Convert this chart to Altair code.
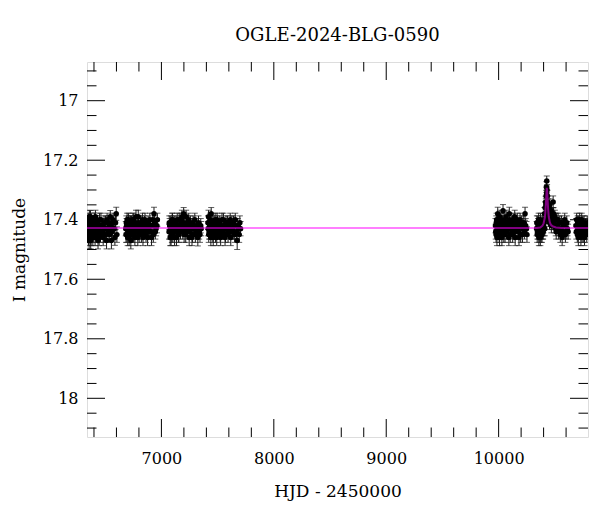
import altair as alt
import pandas as pd

# ---- photometry: (HJD-2450000, I mag, error), two interleaved lists per observing season ----
season1 = [(6340,17.42,0.024),(6345,17.45,0.026),(6349,17.40,0.022),(6353,17.44,0.025),(6357,17.47,0.028),
           (6361,17.41,0.023),(6365,17.43,0.024),(6369,17.39,0.021),(6374,17.46,0.027),(6378,17.42,0.024),
           (6383,17.44,0.025),(6388,17.41,0.022),(6393,17.45,0.026),(6398,17.43,0.024),(6404,17.40,0.023),
           (6410,17.46,0.027),(6416,17.42,0.022),(6422,17.44,0.025),(6429,17.41,0.024),(6436,17.47,0.028),
           (6443,17.43,0.023),(6450,17.40,0.022),(6458,17.45,0.026),(6466,17.42,0.024),(6474,17.44,0.025),
           (6482,17.46,0.027),(6490,17.41,0.023),(6499,17.43,0.024),(6508,17.45,0.026),(6517,17.40,0.022),
           (6526,17.44,0.025),(6535,17.42,0.024),(6545,17.39,0.021),(6555,17.47,0.028),(6565,17.43,0.024),
           (6575,17.41,0.023),(6586,17.46,0.026),(6598,17.38,0.022)]
season1b = [(6343,17.44,0.025),(6347,17.41,0.023),(6351,17.46,0.027),(6355,17.42,0.024),(6359,17.39,0.022),
            (6363,17.45,0.026),(6367,17.43,0.024),(6371,17.47,0.028),(6376,17.40,0.022),(6380,17.44,0.025),
            (6385,17.42,0.024),(6390,17.46,0.027),(6395,17.41,0.023),(6401,17.44,0.025),(6407,17.42,0.024),
            (6413,17.39,0.022),(6419,17.45,0.026),(6425,17.43,0.024),(6432,17.41,0.023),(6439,17.44,0.025),
            (6446,17.46,0.027),(6454,17.42,0.024),(6462,17.40,0.022),(6470,17.44,0.025),(6478,17.42,0.024),
            (6486,17.45,0.026),(6494,17.43,0.024),(6503,17.41,0.023),(6512,17.47,0.028),(6521,17.43,0.024),
            (6530,17.41,0.023),(6540,17.45,0.026),(6550,17.42,0.024),(6560,17.44,0.025),(6570,17.40,0.022),
            (6580,17.43,0.024),(6592,17.41,0.023),(6604,17.45,0.026)]
season2 = [(6683,17.43,0.024),(6688,17.41,0.023),(6693,17.45,0.026),(6698,17.42,0.024),(6703,17.44,0.025),
           (6708,17.40,0.022),(6713,17.46,0.027),(6719,17.43,0.024),(6725,17.41,0.023),(6731,17.44,0.025),
           (6737,17.42,0.024),(6743,17.45,0.026),(6750,17.40,0.022),(6757,17.43,0.024),(6764,17.46,0.027),
           (6771,17.41,0.023),(6778,17.44,0.025),(6786,17.42,0.024),(6794,17.39,0.022),(6802,17.45,0.026),
           (6810,17.43,0.024),(6818,17.41,0.023),(6827,17.44,0.025),(6836,17.46,0.027),(6845,17.42,0.024),
           (6854,17.40,0.022),(6863,17.45,0.026),(6872,17.43,0.024),(6882,17.41,0.023),(6892,17.44,0.025),
           (6902,17.42,0.024),(6912,17.46,0.027),(6923,17.40,0.022),(6934,17.38,0.022),(6946,17.44,0.025),
           (6960,17.42,0.024)]
season2b = [(6685,17.45,0.026),(6690,17.42,0.024),(6695,17.40,0.022),(6700,17.46,0.027),(6705,17.43,0.024),
            (6711,17.41,0.023),(6716,17.44,0.025),(6722,17.42,0.024),(6728,17.47,0.028),(6734,17.41,0.023),
            (6740,17.43,0.024),(6747,17.40,0.022),(6753,17.45,0.026),(6760,17.42,0.024),(6767,17.44,0.025),
            (6774,17.39,0.022),(6782,17.43,0.024),(6790,17.46,0.027),(6798,17.41,0.023),(6806,17.44,0.025),
            (6814,17.42,0.024),(6822,17.45,0.026),(6831,17.40,0.022),(6840,17.43,0.024),(6849,17.41,0.023),
            (6858,17.44,0.025),(6867,17.42,0.024),(6877,17.46,0.027),(6887,17.43,0.024),(6897,17.40,0.022),
            (6907,17.44,0.025),(6917,17.42,0.024),(6928,17.45,0.026),(6940,17.41,0.023),(6953,17.43,0.024),
            (6964,17.40,0.022)]
season3 = [(7068,17.44,0.025),(7073,17.42,0.024),(7078,17.46,0.027),(7083,17.41,0.023),(7088,17.43,0.024),
           (7093,17.45,0.026),(7099,17.40,0.022),(7105,17.44,0.025),(7111,17.42,0.024),(7117,17.46,0.027),
           (7123,17.43,0.024),(7130,17.41,0.023),(7137,17.44,0.025),(7144,17.42,0.024),(7151,17.45,0.026),
           (7158,17.40,0.022),(7166,17.43,0.024),(7174,17.41,0.023),(7182,17.39,0.022),(7190,17.44,0.025),
           (7198,17.38,0.021),(7207,17.42,0.024),(7216,17.45,0.026),(7225,17.41,0.023),(7234,17.43,0.024),
           (7243,17.40,0.022),(7252,17.44,0.025),(7262,17.42,0.024),(7272,17.46,0.027),(7282,17.41,0.023),
           (7292,17.43,0.024),(7302,17.45,0.026),(7313,17.42,0.024),(7324,17.46,0.028),(7336,17.44,0.025),
           (7350,17.42,0.024)]
season3b = [(7070,17.41,0.023),(7075,17.44,0.025),(7080,17.43,0.024),(7086,17.46,0.027),(7091,17.42,0.024),
            (7096,17.40,0.022),(7102,17.45,0.026),(7108,17.43,0.024),(7114,17.41,0.023),(7120,17.44,0.025),
            (7127,17.42,0.024),(7134,17.46,0.027),(7141,17.40,0.022),(7148,17.43,0.024),(7155,17.45,0.026),
            (7162,17.42,0.024),(7170,17.44,0.025),(7178,17.40,0.022),(7186,17.43,0.024),(7194,17.41,0.023),
            (7202,17.45,0.026),(7211,17.43,0.024),(7220,17.39,0.022),(7229,17.44,0.025),(7238,17.42,0.024),
            (7247,17.46,0.027),(7257,17.41,0.023),(7267,17.43,0.024),(7277,17.45,0.026),(7287,17.42,0.024),
            (7297,17.40,0.022),(7307,17.44,0.025),(7318,17.43,0.024),(7330,17.41,0.023),(7343,17.45,0.026),
            (7354,17.43,0.024)]
season4 = [(7414,17.41,0.023),(7419,17.39,0.022),(7424,17.44,0.025),(7429,17.42,0.024),(7434,17.40,0.022),
           (7440,17.46,0.027),(7446,17.43,0.024),(7452,17.41,0.023),(7458,17.45,0.026),(7464,17.42,0.024),
           (7471,17.44,0.025),(7478,17.40,0.022),(7485,17.43,0.024),(7492,17.46,0.027),(7499,17.41,0.023),
           (7507,17.44,0.025),(7515,17.42,0.024),(7523,17.45,0.026),(7531,17.43,0.024),(7539,17.40,0.022),
           (7548,17.44,0.025),(7557,17.42,0.024),(7566,17.46,0.027),(7575,17.41,0.023),(7584,17.43,0.024),
           (7593,17.45,0.026),(7602,17.42,0.024),(7612,17.40,0.022),(7622,17.44,0.025),(7632,17.43,0.024),
           (7642,17.41,0.023),(7652,17.45,0.026),(7663,17.42,0.024),(7674,17.47,0.030),(7686,17.43,0.024),
           (7698,17.41,0.023)]
season4b = [(7416,17.43,0.024),(7421,17.45,0.026),(7426,17.41,0.023),(7431,17.44,0.025),(7437,17.42,0.024),
            (7443,17.38,0.021),(7449,17.44,0.025),(7455,17.42,0.024),(7461,17.46,0.027),(7467,17.41,0.023),
            (7474,17.43,0.024),(7481,17.45,0.026),(7488,17.42,0.024),(7495,17.40,0.022),(7503,17.44,0.025),
            (7511,17.43,0.024),(7519,17.41,0.023),(7527,17.46,0.027),(7535,17.42,0.024),(7543,17.44,0.025),
            (7552,17.40,0.022),(7561,17.43,0.024),(7570,17.45,0.026),(7579,17.42,0.024),(7588,17.41,0.023),
            (7597,17.44,0.025),(7607,17.43,0.024),(7617,17.46,0.027),(7627,17.41,0.023),(7637,17.44,0.025),
            (7647,17.42,0.024),(7657,17.40,0.022),(7668,17.44,0.025),(7680,17.42,0.024),(7692,17.45,0.026),
            (7704,17.43,0.024)]
season5 = [(9972,17.42,0.024),(9977,17.45,0.026),(9982,17.40,0.022),(9987,17.43,0.024),(9992,17.38,0.022),
           (9997,17.44,0.025),(10002,17.41,0.023),(10008,17.46,0.027),(10014,17.42,0.024),(10020,17.40,0.022),
           (10026,17.44,0.025),(10032,17.43,0.024),(10039,17.37,0.021),(10046,17.45,0.026),(10053,17.41,0.023),
           (10060,17.43,0.024),(10067,17.39,0.022),(10075,17.44,0.025),(10083,17.42,0.024),(10091,17.46,0.027),
           (10099,17.40,0.022),(10107,17.43,0.024),(10116,17.41,0.023),(10125,17.45,0.026),(10134,17.42,0.024),
           (10143,17.39,0.022),(10152,17.44,0.025),(10161,17.41,0.023),(10171,17.43,0.024),(10181,17.46,0.027),
           (10191,17.40,0.022),(10201,17.42,0.024),(10212,17.45,0.026),(10223,17.41,0.023),(10235,17.38,0.022),
           (10248,17.43,0.024)]
season5b = [(9974,17.44,0.025),(9979,17.41,0.023),(9985,17.46,0.027),(9990,17.42,0.024),(9995,17.40,0.022),
            (10000,17.43,0.024),(10005,17.45,0.026),(10011,17.39,0.022),(10017,17.44,0.025),(10023,17.42,0.024),
            (10029,17.46,0.027),(10036,17.41,0.023),(10043,17.43,0.024),(10050,17.40,0.022),(10057,17.45,0.026),
            (10064,17.42,0.024),(10071,17.44,0.025),(10079,17.41,0.023),(10087,17.43,0.024),(10095,17.38,0.022),
            (10103,17.45,0.026),(10112,17.42,0.024),(10120,17.44,0.025),(10129,17.40,0.022),(10138,17.43,0.024),
            (10147,17.46,0.027),(10156,17.42,0.024),(10166,17.40,0.022),(10176,17.44,0.025),(10186,17.42,0.024),
            (10196,17.45,0.026),(10206,17.41,0.023),(10217,17.43,0.024),(10229,17.44,0.025),(10241,17.42,0.024),
            (10252,17.45,0.026)]
season6 = [(10338,17.43,0.024),(10343,17.45,0.026),(10348,17.41,0.023),(10353,17.44,0.025),(10358,17.46,0.027),
           (10363,17.42,0.024),(10368,17.44,0.025),(10373,17.40,0.022),(10378,17.45,0.026),(10383,17.43,0.024),
           (10388,17.41,0.023),(10393,17.44,0.025),(10398,17.42,0.024),(10403,17.40,0.022),(10408,17.38,0.021),
           (10413,17.36,0.020),(10418,17.34,0.019),(10422,17.32,0.019),(10425,17.29,0.018),(10428,17.27,0.017),
           (10431,17.30,0.018),(10434,17.32,0.019),(10438,17.35,0.020),(10442,17.37,0.021),(10446,17.36,0.020),
           (10450,17.38,0.021),(10455,17.35,0.020),(10460,17.39,0.022),(10466,17.37,0.021),(10472,17.40,0.022),
           (10478,17.38,0.021),(10485,17.34,0.020),(10492,17.41,0.023),(10500,17.39,0.022),(10508,17.43,0.024),
           (10516,17.40,0.022),(10525,17.42,0.024),(10534,17.44,0.025),(10544,17.41,0.023),(10554,17.43,0.024),
           (10565,17.46,0.027),(10576,17.42,0.024),(10588,17.40,0.022),(10600,17.44,0.025),(10612,17.43,0.024)]
season6b = [(10340,17.41,0.023),(10345,17.44,0.025),(10350,17.42,0.024),(10356,17.40,0.022),(10361,17.45,0.026),
            (10366,17.43,0.024),(10371,17.46,0.027),(10376,17.42,0.024),(10381,17.44,0.025),(10386,17.45,0.026),
            (10391,17.42,0.024),(10396,17.44,0.025),(10401,17.43,0.024),(10406,17.41,0.023),(10411,17.43,0.024),
            (10416,17.38,0.021),(10420,17.35,0.020),(10427,17.31,0.018),(10436,17.34,0.020),(10440,17.39,0.022),
            (10444,17.40,0.022),(10448,17.36,0.020),(10453,17.41,0.023),(10458,17.38,0.021),(10463,17.40,0.022),
            (10469,17.42,0.024),(10475,17.39,0.022),(10481,17.41,0.023),(10488,17.38,0.021),(10496,17.42,0.024),
            (10504,17.40,0.022),(10512,17.44,0.025),(10520,17.42,0.024),(10529,17.40,0.022),(10539,17.43,0.024),
            (10549,17.45,0.026),(10559,17.41,0.023),(10570,17.44,0.025),(10582,17.42,0.024),(10594,17.45,0.026),
            (10606,17.41,0.023),(10618,17.44,0.025)]
season7 = [(10688,17.42,0.024),(10694,17.40,0.022),(10700,17.45,0.026),(10706,17.43,0.024),(10712,17.41,0.023),
           (10718,17.44,0.025),(10725,17.42,0.024),(10732,17.46,0.027),(10739,17.40,0.022),(10746,17.43,0.024),
           (10753,17.45,0.026),(10760,17.41,0.023),(10768,17.44,0.025),(10776,17.42,0.024),(10784,17.45,0.026),
           (10792,17.43,0.024)]
season7b = [(10691,17.44,0.025),(10697,17.42,0.024),(10703,17.41,0.023),(10709,17.46,0.027),(10715,17.43,0.024),
            (10721,17.40,0.022),(10728,17.44,0.025),(10735,17.42,0.024),(10742,17.45,0.026),(10749,17.41,0.023),
            (10756,17.43,0.024),(10764,17.46,0.027),(10772,17.42,0.024),(10780,17.44,0.025),(10788,17.41,0.023)]

# ---- microlensing model curve ----
model_hjd = [6300, 10340, 10370, 10390, 10400, 10410, 10415, 10420, 10425, 10428, 10431,
             10436, 10441, 10446, 10455, 10465, 10480, 10510, 10560, 10850]
model_mag = [17.428, 17.428, 17.426, 17.420, 17.412, 17.395, 17.378, 17.350, 17.315, 17.293, 17.300,
             17.335, 17.368, 17.390, 17.408, 17.417, 17.422, 17.426, 17.428, 17.428]

# ---- axis ticks ----
x_major = [7000, 8000, 9000, 10000]
x_minor = [6400, 6600, 6800, 7200, 7400, 7600, 7800, 8200, 8400, 8600, 8800,
           9200, 9400, 9600, 9800, 10200, 10400, 10600]
y_major = [17.0, 17.2, 17.4, 17.6, 17.8, 18.0]
y_minor = [16.9, 16.95, 17.05, 17.1, 17.15, 17.25, 17.3, 17.35, 17.45, 17.5, 17.55,
           17.65, 17.7, 17.75, 17.85, 17.9, 17.95, 18.05, 18.1]

X_DOMAIN = [6338, 10795]
Y_DOMAIN = [16.87, 18.13]
W, H = 501, 375
FONT = "DejaVu Serif"

rows = (season1 + season1b + season2 + season2b + season3 + season3b + season4 + season4b +
        season5 + season5b + season6 + season6b + season7 + season7b)
phot = pd.DataFrame(rows, columns=["hjd", "mag", "err"])
phot["lo"] = phot["mag"] - phot["err"]
phot["hi"] = phot["mag"] + phot["err"]
model = pd.DataFrame({"hjd": model_hjd, "mag": model_mag})

xs = alt.Scale(domain=X_DOMAIN, nice=False, zero=False)
ys = alt.Scale(domain=Y_DOMAIN, nice=False, zero=False, reverse=True)

x_axis = alt.Axis(values=x_major, format="d", grid=False, ticks=False, tickSize=0, domain=False,
                  labelPadding=13, labelFont=FONT, labelFontSize=16, labelColor="black",
                  title="HJD - 2450000", titleFont=FONT, titleFontSize=17, titleFontWeight="normal",
                  titleColor="black", titleBaseline="alphabetic", titleY=59, titleX=W / 2)
y_axis = alt.Axis(values=y_major, format="~g", grid=False, ticks=False, tickSize=0, domain=False,
                  labelPadding=9, labelFont=FONT, labelFontSize=16, labelColor="black",
                  title="I magnitude", titleFont=FONT, titleFontSize=17, titleFontWeight="normal",
                  titleColor="black", titleBaseline="alphabetic", titleX=-63, titleY=H / 2,
                  titleAngle=270)

base = alt.Chart(phot)
ERR_COLOR = "#1a1a1a"

bars = base.mark_rule(color=ERR_COLOR, strokeWidth=1, clip=True).encode(
    x=alt.X("hjd:Q", scale=xs, axis=x_axis),
    y=alt.Y("lo:Q", scale=ys, axis=y_axis),
    y2="hi:Q",
)
caps_lo = base.mark_tick(orient="horizontal", size=6, thickness=1, color=ERR_COLOR, clip=True).encode(
    x=alt.X("hjd:Q", scale=xs), y=alt.Y("lo:Q", scale=ys))
caps_hi = base.mark_tick(orient="horizontal", size=6, thickness=1, color=ERR_COLOR, clip=True).encode(
    x=alt.X("hjd:Q", scale=xs), y=alt.Y("hi:Q", scale=ys))
pts = base.mark_circle(size=30, color="black", opacity=1, clip=True).encode(
    x=alt.X("hjd:Q", scale=xs), y=alt.Y("mag:Q", scale=ys))
line = alt.Chart(model).mark_line(color="#ff00ff", opacity=0.5, strokeWidth=2, clip=True).encode(
    x=alt.X("hjd:Q", scale=xs), y=alt.Y("mag:Q", scale=ys))

def xticks(vals, length):
    df = pd.DataFrame({"v": vals})
    bot = alt.Chart(df).mark_rule(color="black", strokeWidth=1).encode(
        x=alt.X("v:Q", scale=xs), y=alt.value(H), y2=alt.value(H - length))
    top = alt.Chart(df).mark_rule(color="black", strokeWidth=1).encode(
        x=alt.X("v:Q", scale=xs), y=alt.value(0), y2=alt.value(length))
    return [bot, top]

def yticks(vals, length):
    df = pd.DataFrame({"v": vals})
    left = alt.Chart(df).mark_rule(color="black", strokeWidth=1).encode(
        y=alt.Y("v:Q", scale=ys), x=alt.value(0), x2=alt.value(length))
    right = alt.Chart(df).mark_rule(color="black", strokeWidth=1).encode(
        y=alt.Y("v:Q", scale=ys), x=alt.value(W), x2=alt.value(W - length))
    return [left, right]

tick_layers = xticks(x_major, 18) + xticks(x_minor, 9.5) + yticks(y_major, 18) + yticks(y_minor, 9.5)

chart = alt.layer(bars, caps_lo, caps_hi, pts, line, *tick_layers).properties(
    width=W, height=H,
    title=alt.TitleParams("OGLE-2024-BLG-0590", font=FONT, fontSize=18, fontWeight="normal",
                          color="black", baseline="alphabetic", offset=3, anchor="middle"),
    autosize=alt.AutoSizeParams(type="none"),
    padding={"left": 79, "top": 54, "right": 4, "bottom": 70},
).configure_view(stroke="black", strokeWidth=1.3).configure(background="white")

chart.save("out.html", embed_options={"renderer": "svg", "actions": False})
